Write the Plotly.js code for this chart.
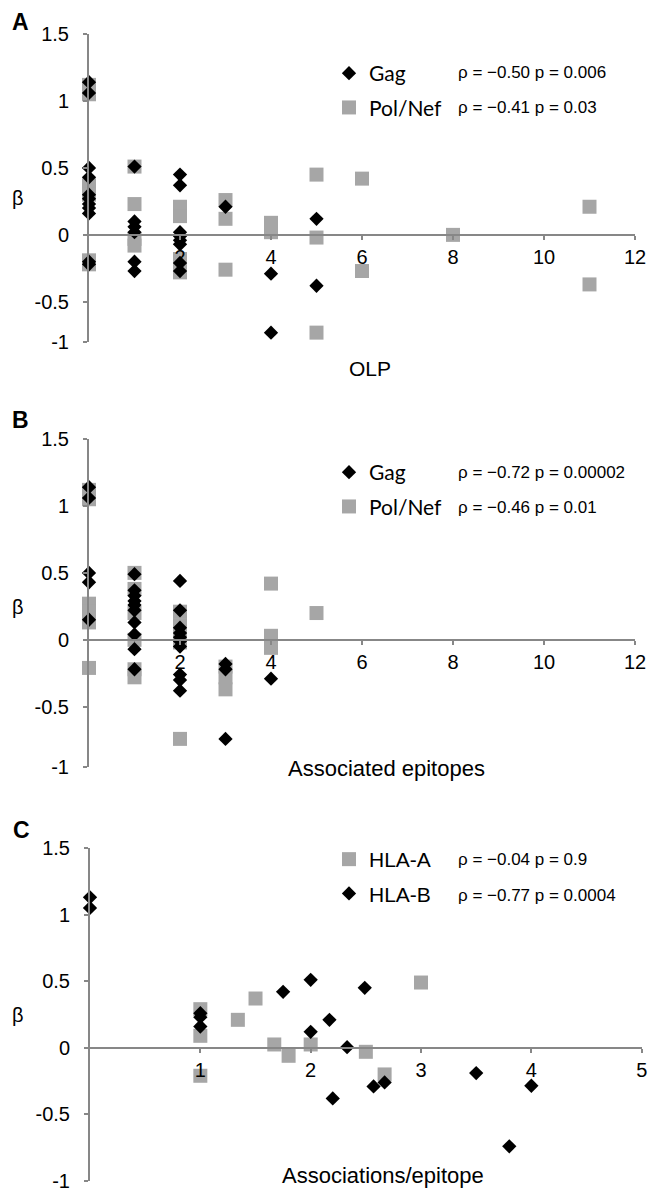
<!DOCTYPE html>
<html>
<head>
<meta charset="utf-8">
<script src="https://cdn.plot.ly/plotly-3.0.1.min.js"></script>
<style>html,body{margin:0;padding:0;background:#fff;}#chart{width:654px;height:1191px;}</style>
</head>
<body>
<div id="chart"></div>
<script>
// ---------- Data ----------
// Panel A: beta vs number of OLP
const olpGagX = [0,0,0,0,0,0,0,0,0,0,0, 1,1,1,1,1,1, 2,2,2,2,2,2,2,2, 3, 4,4, 5,5];
const olpGagY = [1.14,1.06,0.50,0.43,0.30,0.27,0.23,0.20,0.16,-0.20,-0.22, 0.51,0.10,0.06,0.02,-0.20,-0.27, 0.45,0.37,0.02,-0.01,-0.04,-0.07,-0.21,-0.27, 0.21, -0.29,-0.73, 0.12,-0.38];
const olpPolX = [0,0,0,0,0,0, 1,1,1,1, 2,2,2,2, 3,3,3, 4,4, 5,5,5, 6,6, 8, 11,11];
const olpPolY = [1.12,1.05,0.37,0.30,-0.19,-0.22, 0.51,0.23,-0.03,-0.08, 0.21,0.14,-0.18,-0.28, 0.26,0.12,-0.26, 0.09,0.02, 0.45,-0.02,-0.73, 0.42,-0.27, 0.00, 0.21,-0.37];

// Panel B: beta vs associated epitopes
const epiGagX = [0,0,0,0,0, 1,1,1,1,1,1,1,1,1,1, 2,2,2,2,2,2,2,2,2,2, 3,3,3, 4];
const epiGagY = [1.14,1.06,0.50,0.43,0.15, 0.49,0.37,0.33,0.29,0.26,0.22,0.13,0.04,-0.07,-0.22, 0.44,0.22,0.09,0.05,0.02,-0.01,-0.05,-0.26,-0.30,-0.38, -0.18,-0.22,-0.74, -0.29];
const epiPolX = [0,0,0,0,0,0, 1,1,1,1,1,1, 2,2,2,2,2, 3,3,3, 4,4,4, 5];
const epiPolY = [1.12,1.05,0.27,0.21,0.13,-0.21, 0.50,0.38,0.20,0.00,-0.22,-0.28, 0.21,0.11,0.03,-0.02,-0.74, -0.20,-0.28,-0.37, 0.42,0.03,-0.06, 0.20];

// Panel C: beta vs associations per epitope
const hlaAX = [1,1,1, 1.34, 1.5, 1.67, 1.8, 2.0, 2.5, 2.67, 3.0];
const hlaAY = [0.29,0.09,-0.21, 0.21, 0.37, 0.025, -0.06, 0.025, -0.03, -0.20, 0.49];
const hlaBX = [0,0, 1,1,1, 1.75, 2.0, 2.0, 2.17, 2.33, 2.49, 2.2, 2.57, 2.67, 3.5, 4.0, 3.8];
const hlaBY = [1.13,1.05, 0.26,0.23,0.16, 0.42, 0.51, 0.12, 0.21, 0.005, 0.45, -0.38, -0.29, -0.26, -0.19, -0.285, -0.74];

// Tick labels
const yTickText = ["-1","-0.5","0","0.5","1","1.5"];
const yTickVals = [-1,-0.5,0,0.5,1,1.5];
const xTicksAB = [2,4,6,8,10,12];
const xTicksC = [1,2,3,4,5];

// Legend / stats text
const namesAB = ["Gag","Pol/Nef"];
const namesC = ["HLA-A","HLA-B"];
const statsA = ["ρ = −0.50 p = 0.006","ρ = −0.41 p = 0.03"];
const statsB = ["ρ = −0.72 p = 0.00002","ρ = −0.46 p = 0.01"];
const statsC = ["ρ = −0.04 p = 0.9","ρ = −0.77 p = 0.0004"];
const xTitles = ["OLP","Associated epitopes","Associations/epitope"];
const panelLetters = ["A","B","C"];

// ---------- Layout helpers ----------
const W = 654, H = 1191, ML = 89, MR = 0;
const PW = W - ML - MR;
const px2x = p => (p - ML) / PW;
const py2y = p => 1 - p / H;

const AXCOL = '#878787';
const BLACK = '#000000';
const GRAY = '#a6a6a6';
const ARIAL = 'Liberation Sans, Arial, sans-serif';
const CALI = 'Lato, Liberation Sans, sans-serif';

const panels = [
  {xl:89, xr:635, yt:34,  yb:342,  ymin:-0.8,  xmax:12, xt:xTicksAB},
  {xl:89, xr:635, yt:439, yb:767,  ymin:-0.95, xmax:12, xt:xTicksAB},
  {xl:90, xr:641.7, yt:848, yb:1181, ymin:-1, xmax:5, xt:xTicksC}
];

const layout = {
  width: W, height: H,
  margin: {l: ML, r: MR, t: 0, b: 0},
  paper_bgcolor: '#fff', plot_bgcolor: 'rgba(0,0,0,0)',
  showlegend: true,
  font: {family: ARIAL, color: '#000'},
  annotations: [],
};

panels.forEach((p, i) => {
  const n = i === 0 ? '' : String(i + 1);
  const yd = [py2y(p.yb), py2y(p.yt)];
  const ymax = 1.5;
  const zeroPos = yd[0] + (0 - p.ymin) / (ymax - p.ymin) * (yd[1] - yd[0]);
  const tv = yTickVals.slice(); tv[0] = p.ymin;
  layout['xaxis' + n] = {
    domain: [px2x(p.xl), px2x(p.xr)],
    range: [0, p.xmax],
    anchor: 'free', position: zeroPos,
    showgrid: false, zeroline: false,
    showline: true, linecolor: AXCOL, linewidth: 2,
    ticks: 'outside', ticklen: 4, tickwidth: 2, tickcolor: AXCOL,
    tickvals: p.xt, ticktext: p.xt.map(String),
    ticklabeloverflow: 'allow',
    tickfont: {family: ARIAL, size: 20, color: '#000'},
    fixedrange: true
  };
  layout['yaxis' + n] = {
    domain: yd,
    range: [p.ymin, ymax],
    anchor: 'x' + n,
    showgrid: false, zeroline: false,
    showline: true, linecolor: AXCOL, linewidth: 2,
    ticks: 'outside', ticklen: 4, tickwidth: 2, tickcolor: AXCOL,
    tickvals: tv, ticktext: yTickText,
    ticklabelstandoff: 10,
    ticklabeloverflow: 'allow',
    tickfont: {family: ARIAL, size: 20, color: '#000'},
    fixedrange: true
  };
});

// legends
const legendBase = {
  bgcolor: 'rgba(0,0,0,0)', borderwidth: 0,
  xanchor: 'left', yanchor: 'top', x: px2x(329),
  traceorder: 'grouped',
  tracegroupgap: 4, itemclick: false, itemdoubleclick: false,
};
layout.legend = Object.assign({}, legendBase, {y: py2y(53), font: {family: CALI, size: 21, color: '#000'}});
layout.legend2 = Object.assign({}, legendBase, {y: py2y(452), font: {family: CALI, size: 21, color: '#000'}});
layout.legend3 = Object.assign({}, legendBase, {y: py2y(839), font: {family: ARIAL, size: 21, color: '#000'}});

// stats annotations
const statRows = [[statsA, 73, 108], [statsB, 472, 507], [statsC, 859, 895]];
statRows.forEach(r => {
  [0, 1].forEach(k => {
    layout.annotations.push({
      xref: 'paper', yref: 'paper', x: px2x(456), y: py2y(r[k + 1]),
      xanchor: 'left', yanchor: 'middle', showarrow: false,
      text: r[0][k], font: {family: ARIAL, size: 17, color: '#000'}
    });
  });
});

// axis titles
const xtPos = [[370, 368], [386, 768], [383, 1175]];
xTitles.forEach((t, i) => {
  layout.annotations.push({
    xref: 'paper', yref: 'paper', x: px2x(xtPos[i][0]), y: py2y(xtPos[i][1]),
    xanchor: 'center', yanchor: 'middle', showarrow: false,
    text: t, font: {family: ARIAL, size: i === 0 ? 21 : 22, color: '#000'}
  });
});
// beta titles
[198, 607, 1015].forEach(yp => {
  layout.annotations.push({
    xref: 'paper', yref: 'paper', x: px2x(18), y: py2y(yp),
    xanchor: 'center', yanchor: 'middle', showarrow: false,
    text: 'β', font: {family: ARIAL, size: 20, color: '#000'}
  });
});
// panel letters
[[20, 22], [20, 420], [21, 830]].forEach((pp, i) => {
  layout.annotations.push({
    xref: 'paper', yref: 'paper', x: px2x(pp[0]), y: py2y(pp[1]),
    xanchor: 'center', yanchor: 'middle', showarrow: false,
    text: '<b>' + panelLetters[i] + '</b>', font: {family: ARIAL, size: 23, color: '#000'}
  });
});

const dia = (c) => ({symbol: 'diamond', size: 11, color: c, line: {width: 0}});
const sq = (c) => ({symbol: 'square', size: 14, color: c, line: {width: 0}});

const data = [
  {x: olpPolX, y: olpPolY, type: 'scatter', mode: 'markers', name: namesAB[1], legendgroup: 'a2', legendrank: 2, marker: sq(GRAY), xaxis: 'x', yaxis: 'y', legend: 'legend', cliponaxis: false, hoverinfo: 'skip'},
  {x: olpGagX, y: olpGagY, type: 'scatter', mode: 'markers', name: namesAB[0], legendgroup: 'a1', legendrank: 1, marker: dia(BLACK), xaxis: 'x', yaxis: 'y', legend: 'legend', cliponaxis: false, hoverinfo: 'skip'},
  {x: epiPolX, y: epiPolY, type: 'scatter', mode: 'markers', name: namesAB[1], legendgroup: 'b2', legendrank: 2, marker: sq(GRAY), xaxis: 'x2', yaxis: 'y2', legend: 'legend2', cliponaxis: false, hoverinfo: 'skip'},
  {x: epiGagX, y: epiGagY, type: 'scatter', mode: 'markers', name: namesAB[0], legendgroup: 'b1', legendrank: 1, marker: dia(BLACK), xaxis: 'x2', yaxis: 'y2', legend: 'legend2', cliponaxis: false, hoverinfo: 'skip'},
  {x: hlaAX, y: hlaAY, type: 'scatter', mode: 'markers', name: namesC[0], legendgroup: 'c1', legendrank: 1, marker: sq(GRAY), xaxis: 'x3', yaxis: 'y3', legend: 'legend3', cliponaxis: false, hoverinfo: 'skip'},
  {x: hlaBX, y: hlaBY, type: 'scatter', mode: 'markers', name: namesC[1], legendgroup: 'c2', legendrank: 2, marker: dia(BLACK), xaxis: 'x3', yaxis: 'y3', legend: 'legend3', cliponaxis: false, hoverinfo: 'skip'}
];

Plotly.newPlot('chart', data, layout, {displayModeBar: false, staticPlot: true});
</script>
</body>
</html>
